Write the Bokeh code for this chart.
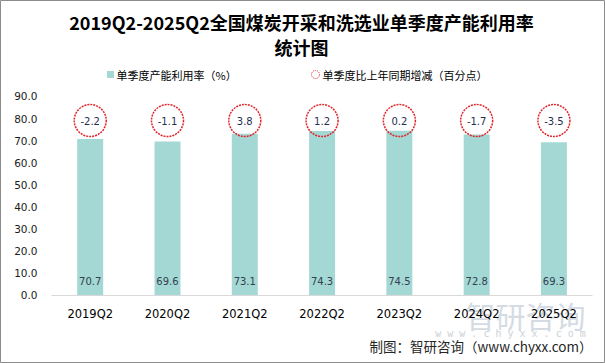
from bokeh.plotting import figure
from bokeh.models import ColumnDataSource, Range1d, FixedTicker, NumeralTickFormatter
from bokeh.core.properties import value
from bokeh.embed import file_html
from bokeh.resources import INLINE

categories = ["2019Q2", "2020Q2", "2021Q2", "2022Q2", "2023Q2", "2024Q2", "2025Q2"]
utilization = [70.7, 69.6, 73.1, 74.3, 74.5, 72.8, 69.3]
yoy_change = [-2.2, -1.1, 3.8, 1.2, 0.2, -1.7, -3.5]
y_ticks = [0, 10, 20, 30, 40, 50, 60, 70, 80, 90]

title_line1 = "2019Q2-2025Q2全国煤炭开采和洗选业单季度产能利用率"
title_line2 = "统计图"
legend_bar = "单季度产能利用率（%）"
legend_circle = "单季度比上年同期增减（百分点）"
footer = "制图：智研咨询（www.chyxx.com）"

CJK = "Noto Sans CJK SC"
NUM = "DejaVu Sans"
BAR_COLOR = "#A3D8D4"
RED = "#E0252B"

W, H = 605, 363
PX_X = 77.29      # pixels per category
PX_Y = 2.2056     # pixels per percentage point
X0_PX = 89.7      # first category centre (px from left)
Y0_PX = 294.5     # zero line (px from top)


def dx(px):
    return (px - X0_PX) / PX_X


def dy(py):
    return (Y0_PX - py) / PX_Y


CIRCLE_Y = dy(120)
idx = list(range(len(categories)))

src = ColumnDataSource(dict(
    x=idx,
    val=utilization,
    val_txt=["%.1f" % v for v in utilization],
    chg=yoy_change,
    chg_txt=["%.1f" % v for v in yoy_change],
    cy=[CIRCLE_Y] * len(categories),
))

p = figure(width=W, height=H, output_backend="svg", toolbar_location=None,
           x_range=Range1d(dx(0), dx(W)), y_range=Range1d(dy(H), dy(0)),
           min_border=0, min_border_left=0, min_border_right=0,
           min_border_top=0, min_border_bottom=0)

p.background_fill_color = "white"
p.border_fill_color = "white"
p.outline_line_color = "#8C8C8C"
p.outline_line_width = 1
p.xgrid.grid_line_color = None
p.ygrid.grid_line_color = None

# axes inside the frame
p.yaxis.fixed_location = -0.5
p.yaxis.bounds = (0, 90)
p.yaxis.ticker = FixedTicker(ticks=y_ticks)
p.yaxis.formatter = NumeralTickFormatter(format="0.0")
p.yaxis.axis_line_color = None
p.yaxis.major_tick_line_color = None
p.yaxis.minor_tick_line_color = None
p.yaxis.major_tick_out = 0
p.yaxis.major_label_standoff = 14
p.yaxis.major_label_text_font = NUM
p.yaxis.major_label_text_font_size = "10.5px"
p.yaxis.major_label_text_color = "#1a1a1a"

p.xaxis.fixed_location = 0
p.xaxis.bounds = (-0.5, len(categories) - 0.5)
p.xaxis.ticker = FixedTicker(ticks=idx)
p.xaxis.major_label_overrides = {i: c for i, c in zip(idx, categories)}
p.xaxis.axis_line_color = "#D9D9D9"
p.xaxis.axis_line_width = 1
p.xaxis.major_tick_line_color = None
p.xaxis.minor_tick_line_color = None
p.xaxis.major_tick_out = 0
p.xaxis.major_label_standoff = 12
p.xaxis.major_label_text_font = NUM
p.xaxis.major_label_text_font_size = "11.5px"
p.xaxis.major_label_text_color = "#000000"


def txt(x, y, text, font, size, color, align="left", bold=False, level="glyph"):
    r = p.text(x=[x], y=[y], text=[text], text_font=value(font), text_font_size=size,
               text_color=color, text_align=align, text_baseline="middle",
               text_font_style="bold" if bold else "normal")
    r.level = level
    return r


# watermark (under everything)
txt(dx(525), dy(314), "智研咨询", CJK, "30px", "#D5DBE3", "center", level="underlay")
txt(dx(510), dy(333), "w w w . c h y x x . c o m", "DejaVu Sans Mono", "10px", "#CDD1D6",
    "center", level="underlay")

# bars
p.vbar(x="x", top="val", width=0.336, source=src, fill_color=BAR_COLOR, line_color=None)
p.text(x="x", y=0, text="val_txt", source=src, y_offset=-14,
       text_font=value(NUM), text_font_size="10px", text_color="#333F50",
       text_align="center", text_baseline="middle")

# change circles
p.scatter(x="x", y="cy", source=src, size=32, marker="circle", fill_color=None,
          line_color=RED, line_width=1.5, line_dash="2 1")
p.text(x="x", y="cy", text="chg_txt", source=src,
       text_font=value(NUM), text_font_size="10px", text_color="#1F2F4F",
       text_align="center", text_baseline="middle")

# titles
txt(dx(301), dy(21), title_line1, CJK, "18px", "#000000", "center", bold=True)
txt(dx(301), dy(46), title_line2, CJK, "18px", "#000000", "center", bold=True)

# legend
p.scatter(x=[dx(110)], y=[dy(74)], marker="square", size=7, fill_color=BAR_COLOR, line_color=None)
txt(dx(116), dy(74), legend_bar, CJK, "11px", "#000000")
p.scatter(x=[dx(315)], y=[dy(74)], marker="circle", size=8, fill_color=None,
          line_color=RED, line_width=1, line_dash="1 1")
txt(dx(322), dy(74), legend_circle, CJK, "11px", "#000000")

# footer
txt(dx(592), dy(345), footer, CJK, "13.5px", "#262626", "right")

open("out.html", "w").write(file_html(p, INLINE))
